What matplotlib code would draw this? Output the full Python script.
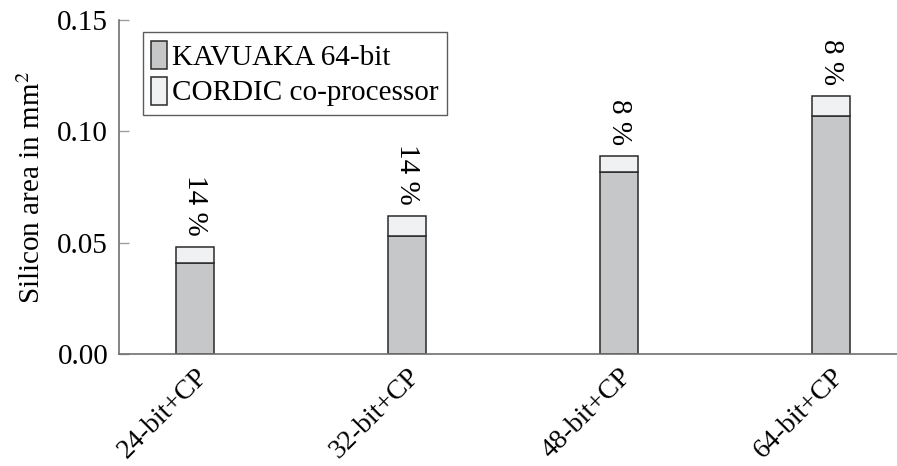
import numpy as np
import matplotlib
matplotlib.use("Agg")
import matplotlib.pyplot as plt

categories = ["24-bit+CP", "32-bit+CP", "48-bit+CP", "64-bit+CP"]
kavuaka = [0.041, 0.053, 0.082, 0.107]
cordic = [0.007, 0.009, 0.007, 0.009]
pct_labels = ["14 %", "14 %", "8 %", "8 %"]

plt.rcParams["font.family"] = ["Liberation Serif", "DejaVu Serif"]
plt.rcParams["mathtext.fontset"] = "stix"
plt.rcParams["font.size"] = 21

fig = plt.figure(figsize=(8.97, 4.66), dpi=100)
ax = fig.add_axes([0.133, 0.24, 0.867, 0.717])

x = np.arange(len(categories))
w = 0.18
ax.bar(x, kavuaka, w, color="#c6c7c9", edgecolor="#2a2a2a", linewidth=1.1,
       label="KAVUAKA 64-bit", zorder=2)
ax.bar(x, cordic, w, bottom=kavuaka, color="#f0f1f2", edgecolor="#2a2a2a",
       linewidth=1.1, label="CORDIC co-processor", zorder=2)

tops = np.array(kavuaka) + np.array(cordic)
for xi, t, s in zip(x, tops, pct_labels):
    ax.annotate(s, (xi, t), xytext=(0, 8), textcoords="offset points",
                rotation=270, ha="center", va="bottom", fontsize=21)

ax.set_xlim(-0.356, 3.312)
ax.set_ylim(0, 0.15)
ax.set_yticks([0, 0.05, 0.10, 0.15])
ax.set_yticklabels(["0.00", "0.05", "0.10", "0.15"])
ax.set_xticks(x)
ax.set_xticklabels(categories, rotation=45, ha="right", va="top",
                   rotation_mode="anchor", fontsize=20)
ax.set_ylabel("Silicon area in mm$^2$", labelpad=8)

for sp in ["top", "right"]:
    ax.spines[sp].set_visible(False)
for sp in ["left", "bottom"]:
    ax.spines[sp].set_color("#707070")
    ax.spines[sp].set_linewidth(1.2)
ax.tick_params(direction="in", length=7.5, color="#a0a0a0", width=1, pad=8)
ax.tick_params(axis="x", pad=7)

leg = ax.legend(loc="upper left", bbox_to_anchor=(0.03, 0.964), frameon=True,
                fancybox=False, edgecolor="#333333", handlelength=0.55,
                handleheight=1.1, handletextpad=0.15, borderpad=0.3,
                labelspacing=0.2, borderaxespad=0)
leg.get_frame().set_linewidth(1.0)

fig.savefig("out.png", dpi=100)
